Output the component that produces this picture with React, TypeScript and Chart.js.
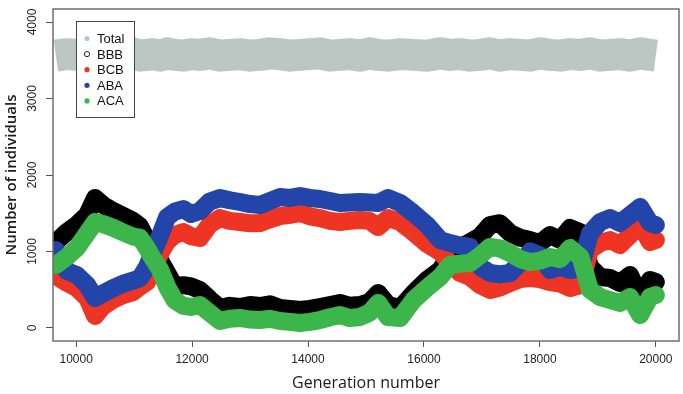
import React, { useEffect, useRef } from "react";
import { Chart, registerables } from "chart.js";

Chart.register(...registerables);

// Generation numbers at which values were read
const gens = [
  9650, 9840, 10010, 10190, 10325, 10460, 10635, 10810, 10980, 11100,
  11220, 11330, 11450, 11570, 11700, 11850, 11980, 12135, 12300, 12480,
  12650, 12825, 13000, 13170, 13340, 13515, 13690, 13860, 14030, 14205,
  14380, 14550, 14720, 14895, 15060, 15210, 15380, 15590, 15820, 16050,
  16280, 16450, 16620, 16795, 16970, 17140, 17310, 17485, 17660, 17830,
  18000, 18175, 18350, 18520, 18700, 18865, 19040, 19210, 19380, 19555,
  19730, 19900, 20000,
];

const totalVals = [
  3560, 3580, 3570, 3590, 3560, 3580, 3550, 3570, 3590, 3560,
  3570, 3580, 3560, 3590, 3570, 3560, 3580, 3570, 3590, 3560,
  3570, 3580, 3560, 3570, 3590, 3580, 3560, 3570, 3580, 3590,
  3560, 3570, 3580, 3560, 3590, 3570, 3560, 3580, 3570, 3560,
  3590, 3570, 3580, 3560, 3570, 3590, 3560, 3580, 3570, 3560,
  3590, 3570, 3560, 3580, 3570, 3590, 3560, 3570, 3580, 3560,
  3590, 3570, 3560,
];

const bbbVals = [
  1125, 1255, 1350, 1480, 1700, 1610, 1530, 1465, 1400, 1330,
  1150, 1050, 880, 720, 540, 560, 545, 497, 380, 261,
  290, 274, 300, 287, 310, 261, 250, 235, 250, 274,
  300, 327, 290, 300, 340, 457, 300, 261, 457, 627,
  758, 954, 1050, 1124, 1200, 1346, 1370, 1241, 1180, 1150,
  1111, 1215, 1150, 1307, 1250, 800, 667, 654, 588, 693,
  405, 627, 600,
];

const bcbVals = [
  680, 590, 523, 392, 157, 280, 370, 430, 470, 540,
  600, 780, 980, 1130, 1215, 1255, 1200, 1176, 1350, 1437,
  1400, 1385, 1370, 1372, 1420, 1463, 1480, 1503, 1460, 1437,
  1400, 1385, 1400, 1411, 1400, 1320, 1437, 1385, 1250, 1100,
  993, 850, 720, 667, 560, 497, 530, 588, 640, 654,
  640, 600, 580, 523, 562, 1020, 1111, 1150, 1085, 1215,
  1346, 1124, 1150,
];

const abaVals = [
  1020, 745, 693, 562, 392, 450, 520, 580, 620, 650,
  797, 1000, 1215, 1450, 1520, 1555, 1490, 1530, 1650, 1700,
  1670, 1647, 1620, 1607, 1660, 1712, 1700, 1725, 1700, 1686,
  1660, 1634, 1640, 1647, 1640, 1634, 1700, 1634, 1500, 1350,
  1150, 1111, 1080, 1059, 800, 719, 700, 719, 850, 1000,
  950, 758, 800, 758, 780, 1241, 1385, 1437, 1372, 1476,
  1581, 1372, 1346,
];

const acaVals = [
  823, 930, 1045, 1240, 1385, 1360, 1310, 1250, 1195, 1180,
  1045, 900, 760, 536, 360, 290, 275, 300, 200, 91,
  120, 131, 110, 104, 120, 91, 80, 65, 80, 104,
  140, 170, 130, 144, 200, 327, 144, 131, 366, 523,
  667, 823, 840, 850, 950, 1059, 1040, 980, 900, 862,
  880, 928, 900, 1045, 928, 497, 405, 366, 327, 405,
  170, 405, 431,
];

const xTicks = [10000, 12000, 14000, 16000, 18000, 20000];
const yTicks = [0, 1000, 2000, 3000, 4000];

const seriesLabels = ["Total", "BBB", "BCB", "ABA", "ACA"];
const seriesColors = ["#bcc7c3", "#000000", "#ee3524", "#2344a8", "#3cb54a"];

const toPts = (vals: number[]) => gens.map((g, i) => ({ x: g, y: vals[i] }));

const overlayPlugin = {
  id: "overlay",
  afterDatasetsDraw(chart: any) {
    const { ctx, chartArea } = chart;
    ctx.save();
    ctx.strokeStyle = "#6f6f6f";
    ctx.lineWidth = 1.5;
    ctx.strokeRect(chartArea.left, chartArea.top, chartArea.right - chartArea.left, chartArea.bottom - chartArea.top);
    ctx.restore();
  },
  afterDraw(chart: any) {
    const { ctx, chartArea } = chart;
    const yScale = chart.scales.y;
    ctx.save();
    // rotated y tick labels
    ctx.fillStyle = "#222";
    ctx.font = '12px "Liberation Sans", Arial, sans-serif';
    ctx.textAlign = "center";
    ctx.textBaseline = "middle";
    yTicks.forEach((v) => {
      const y = yScale.getPixelForValue(v);
      ctx.save();
      ctx.translate(33, y);
      ctx.rotate(-Math.PI / 2);
      ctx.fillText(String(v), 0, 0);
      ctx.restore();
    });
    // axis titles
    ctx.fillStyle = "#1a1a1a";
    ctx.font = '16px "Open Sans", sans-serif';
    ctx.fillText("Generation number", (chartArea.left + chartArea.right) / 2, 383);
    ctx.save();
    ctx.translate(12, (chartArea.top + chartArea.bottom) / 2);
    ctx.rotate(-Math.PI / 2);
    ctx.font = '600 15px "Open Sans", sans-serif';
    ctx.fillText("Number of individuals", 0, 0);
    ctx.restore();

    // legend
    const lx = 76.5, ly = 21.5, lw = 58, lh = 96;
    ctx.fillStyle = "#ffffff";
    ctx.fillRect(lx, ly, lw, lh);
    ctx.strokeStyle = "#444";
    ctx.lineWidth = 1;
    ctx.strokeRect(lx, ly, lw, lh);
    ctx.font = '13px "Liberation Sans", Arial, sans-serif';
    ctx.textAlign = "left";
    chart.data.datasets.forEach((ds: any, i: number) => {
      const cy = 38.5 + i * 15.6;
      ctx.beginPath();
      ctx.arc(87, cy, 2.6, 0, Math.PI * 2);
      if (ds.label === "BBB") {
        ctx.strokeStyle = "#222";
        ctx.lineWidth = 1;
        ctx.stroke();
      } else {
        ctx.fillStyle = ds.borderColor;
        ctx.fill();
      }
      ctx.fillStyle = "#111";
      ctx.fillText(ds.label, 97, cy + 1);
    });
    ctx.restore();
  },
};

export default function App() {
  const canvasRef = useRef<HTMLCanvasElement | null>(null);

  useEffect(() => {
    if (!canvasRef.current) return;
    const allVals = [totalVals, bbbVals, bcbVals, abaVals, acaVals];
    const widths = [32, 18, 18, 18, 18];
    const chart = new Chart(canvasRef.current, {
      type: "scatter",
      data: {
        datasets: allVals.map((vals, i) => ({
          label: seriesLabels[i],
          data: toPts(vals),
          showLine: true,
          borderColor: seriesColors[i],
          backgroundColor: seriesColors[i],
          borderWidth: widths[i],
          borderJoinStyle: "round",
          borderCapStyle: i === 0 ? "butt" : "round",
          pointRadius: 0,
          pointHoverRadius: 0,
          tension: 0,
          order: 5 - i,
        })),
      },
      options: {
        responsive: false,
        animation: false,
        events: [],
        layout: { padding: { left: 0, right: 4, top: 9, bottom: 0 } },
        plugins: { legend: { display: false }, tooltip: { enabled: false } },
        scales: {
          x: {
            type: "linear",
            min: 9600,
            max: 20400,
            afterBuildTicks: (scale: any) => {
              scale.ticks = xTicks.map((v) => ({ value: v }));
            },
            afterFit: (scale: any) => {
              scale.height = 53;
            },
            grid: { drawOnChartArea: false, drawTicks: true, tickLength: 6, color: "#555", lineWidth: 1 },
            border: { display: false },
            ticks: {
              autoSkip: false,
              maxRotation: 0,
              minRotation: 0,
              padding: 5,
              color: "#222",
              font: { family: '"Liberation Sans", Arial, sans-serif', size: 12 },
              callback: (v: any) => String(v),
            },
          },
          y: {
            type: "linear",
            min: -170,
            max: 4170,
            afterBuildTicks: (scale: any) => {
              scale.ticks = yTicks.map((v) => ({ value: v }));
            },
            afterFit: (scale: any) => {
              scale.width = 53;
            },
            grid: { drawOnChartArea: false, drawTicks: true, tickLength: 7, color: "#555", lineWidth: 1 },
            border: { display: false },
            ticks: { display: false },
          },
        },
      },
      plugins: [overlayPlugin],
    } as any);
    return () => chart.destroy();
  }, []);

  return (
    <div style={{ position: "fixed", left: 0, top: 0, width: 683, height: 394, background: "#fff" }}>
      <canvas ref={canvasRef} width={683} height={394} style={{ display: "block" }} />
    </div>
  );
}
